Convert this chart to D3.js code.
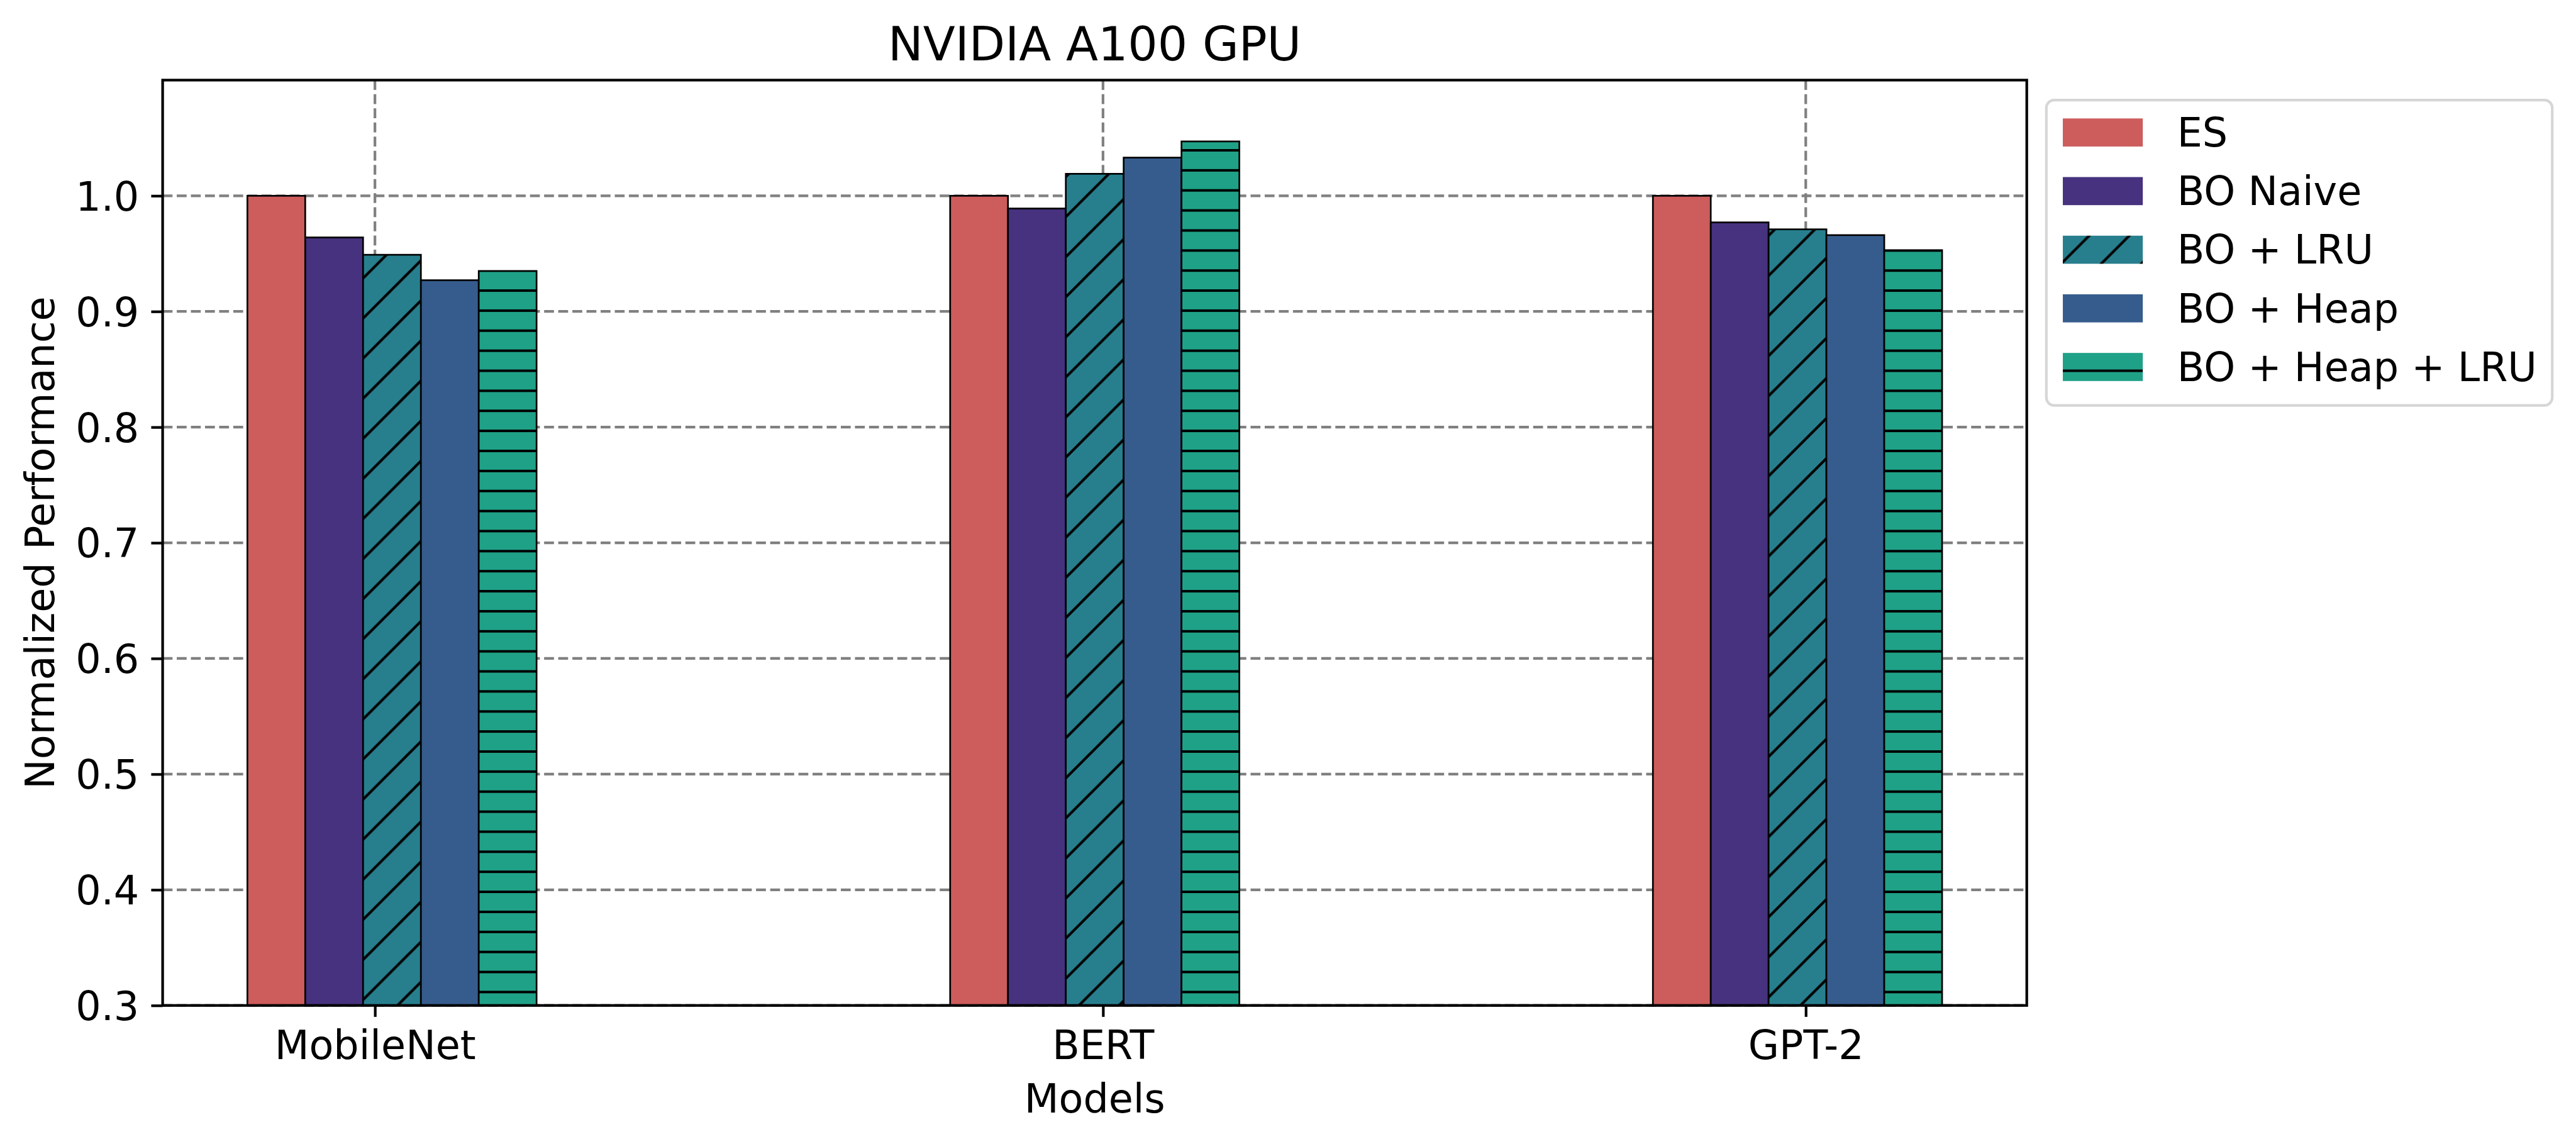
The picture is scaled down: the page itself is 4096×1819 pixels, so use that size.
<!DOCTYPE html>
<html>
<head>
<meta charset="utf-8">
<script src="https://cdn.jsdelivr.net/npm/d3@7/dist/d3.min.js"></script>
<style>
  html, body { margin: 0; padding: 0; background: #ffffff; }
  svg { display: block; }
  text { font-family: "DejaVu Sans", sans-serif; fill: #000; }
</style>
</head>
<body>
<script>
// ---------------- data ----------------
const categories = ["MobileNet", "BERT", "GPT-2"];
const tickOffsets = [0.1815, 1.2175, 2.2175];
const seriesNames = ["ES", "BO Naive", "BO + LRU", "BO + Heap", "BO + Heap + LRU"];
const esValues       = [1.000, 1.000, 1.000];
const boNaiveValues  = [0.964, 0.989, 0.977];
const boLruValues    = [0.949, 1.019, 0.971];
const boHeapValues   = [0.927, 1.033, 0.966];
const boHeapLruValues= [0.935, 1.047, 0.953];
const yTickValues = [0.3, 0.4, 0.5, 0.6, 0.7, 0.8, 0.9, 1.0];
const yTickLabels = ["0.3", "0.4", "0.5", "0.6", "0.7", "0.8", "0.9", "1.0"];
const seriesColors = ["#CD5C5C", "#46327E", "#277F8E", "#365C8D", "#1FA187"];
const seriesHatch = ["none", "diag", "none", "none", "horiz"];
const titleText = "NVIDIA A100 GPU";
const xLabelText = "Models";
const yLabelText = "Normalized Performance";

const seriesValues = [esValues, boNaiveValues, boLruValues, boHeapValues, boHeapLruValues];

// ---------------- layout ----------------
const W = 4096, H = 1819;
const S = 0.956;
const plotL = 258.6, plotR = 3222.7, plotT = 127.4, plotB = 1598.7;
const barW = 0.0823;
const fs = 66.5 * S, titleFs = 78 * S;
const lw = 4.4 * S;

const svg = d3.select("body").append("svg")
  .attr("width", W).attr("height", H)
  .attr("viewBox", `0 0 ${W} ${H}`);

const x = d3.scaleLinear().domain([-0.1206, 2.532]).range([plotL, plotR]);
const y = d3.scaleLinear().domain([0.3, 1.1]).range([plotB, plotT]);

// ---------------- patterns ----------------
const defs = svg.append("defs");
const hatchLw = 4.4 * S;
// diagonal '/'
const T = 66.67 * S;
const pd = defs.append("pattern").attr("id", "diag")
  .attr("patternUnits", "userSpaceOnUse")
  .attr("x", 0).attr("y", 0).attr("width", T).attr("height", T);
pd.append("rect").attr("width", T).attr("height", T).attr("fill", seriesColors[2]);
pd.append("path")
  .attr("d", `M${-T*0.2},${T*1.2}L${T*1.2},${-T*0.2} M${-T*0.2},${T*0.2}L${T*0.2},${-T*0.2} M${T*0.8},${T*1.2}L${T*1.2},${T*0.8}`)
  .attr("stroke", "#000").attr("stroke-width", hatchLw).attr("fill", "none");
// horizontal '-'
const Th = 33.333 * S;
const hOff = (1650 * S) % Th;
const ph = defs.append("pattern").attr("id", "horiz")
  .attr("patternUnits", "userSpaceOnUse")
  .attr("x", 0).attr("y", 0).attr("width", 50).attr("height", Th);
ph.append("rect").attr("width", 50).attr("height", Th).attr("fill", seriesColors[4]);
ph.append("line").attr("x1", -1).attr("x2", 51).attr("y1", hOff).attr("y2", hOff)
  .attr("stroke", "#000").attr("stroke-width", hatchLw * 0.95);

function fillFor(i) {
  if (i === 2) return "url(#diag)";
  if (i === 4) return "url(#horiz)";
  return seriesColors[i];
}

// ---------------- grid ----------------
const gridG = svg.append("g");
const dash = `${16.4 * S},${7.1 * S}`;
gridG.selectAll("line.hg").data(yTickValues).enter().append("line")
  .attr("x1", plotL).attr("x2", plotR)
  .attr("y1", d => y(d)).attr("y2", d => y(d))
  .attr("stroke", "#808080").attr("stroke-width", lw).attr("stroke-dasharray", dash);
gridG.selectAll("line.vg").data(tickOffsets).enter().append("line")
  .attr("x1", d => x(d)).attr("x2", d => x(d))
  .attr("y1", plotT).attr("y2", plotB)
  .attr("stroke", "#808080").attr("stroke-width", lw).attr("stroke-dasharray", dash);

// ---------------- bars ----------------
const barsG = svg.append("g");
seriesValues.forEach((vals, si) => {
  barsG.selectAll(null).data(vals).enter().append("rect")
    .attr("x", (d, ci) => x(ci + si * barW))
    .attr("width", x(barW) - x(0))
    .attr("y", d => y(d))
    .attr("height", d => y(0.3) - y(d))
    .attr("fill", fillFor(si))
    .attr("stroke", "#000")
    .attr("stroke-width", 2.8 * S);
});

// ---------------- axes ----------------
const tickLen = 19 * S;
const yAxis = d3.axisLeft(y).tickValues(yTickValues)
  .tickFormat((d, i) => yTickLabels[i]).tickSize(tickLen).tickPadding(20 * S);
const yG = svg.append("g").attr("transform", `translate(${plotL},0)`).call(yAxis);
const xAxis = d3.axisBottom(x).tickValues(tickOffsets)
  .tickFormat((d, i) => categories[i]).tickSize(tickLen).tickPadding(20 * S);
const xG = svg.append("g").attr("transform", `translate(0,${plotB})`).call(xAxis);
[yG, xG].forEach(g => {
  g.select(".domain").remove();
  g.selectAll(".tick line").attr("stroke", "#000").attr("stroke-width", lw);
  g.selectAll(".tick text").attr("font-size", fs).attr("fill", "#000")
    .style("font-family", '"DejaVu Sans", sans-serif');
});
yG.selectAll(".tick text").attr("dy", "0.36em");
xG.selectAll(".tick text").attr("dy", "0.75em");

// spines
svg.append("rect")
  .attr("x", plotL).attr("y", plotT)
  .attr("width", plotR - plotL).attr("height", plotB - plotT)
  .attr("fill", "none").attr("stroke", "#000").attr("stroke-width", lw);

// ---------------- labels ----------------
svg.append("text").attr("x", (plotL + plotR) / 2).attr("y", 100.7 * S)
  .attr("text-anchor", "middle").attr("font-size", titleFs).text(titleText);
svg.append("text").attr("x", (plotL + plotR) / 2).attr("y", 1850 * S)
  .attr("text-anchor", "middle").attr("font-size", fs).text(xLabelText);
svg.append("text")
  .attr("transform", `translate(${90 * S},${(plotT + plotB) / 2}) rotate(-90)`)
  .attr("text-anchor", "middle").attr("font-size", fs).text(yLabelText);

// ---------------- legend ----------------
const lgX = 3403.6 * S, lgY = 166.4 * S, lgW = (4245 - 3403.6) * S, lgH = (674.2 - 166.4) * S;
const lg = svg.append("g");
lg.append("rect").attr("x", lgX).attr("y", lgY).attr("width", lgW).attr("height", lgH)
  .attr("rx", 13 * S).attr("ry", 13 * S)
  .attr("fill", "#fff").attr("fill-opacity", 0.8)
  .attr("stroke", "#d6d6d6").attr("stroke-width", lw);
const rowTop0 = 197 * S, rowStep = 97.5 * S, patchH = 46.7 * S;
const patchX = 3431 * S, patchW = 133 * S, textX = 3621 * S;
seriesNames.forEach((name, i) => {
  const top = rowTop0 + i * rowStep;
  lg.append("rect").attr("x", patchX).attr("y", top)
    .attr("width", patchW).attr("height", patchH).attr("fill", fillFor(i));
  lg.append("text").attr("x", textX).attr("y", top + patchH)
    .attr("font-size", fs).text(name);
});
</script>
</body>
</html>
